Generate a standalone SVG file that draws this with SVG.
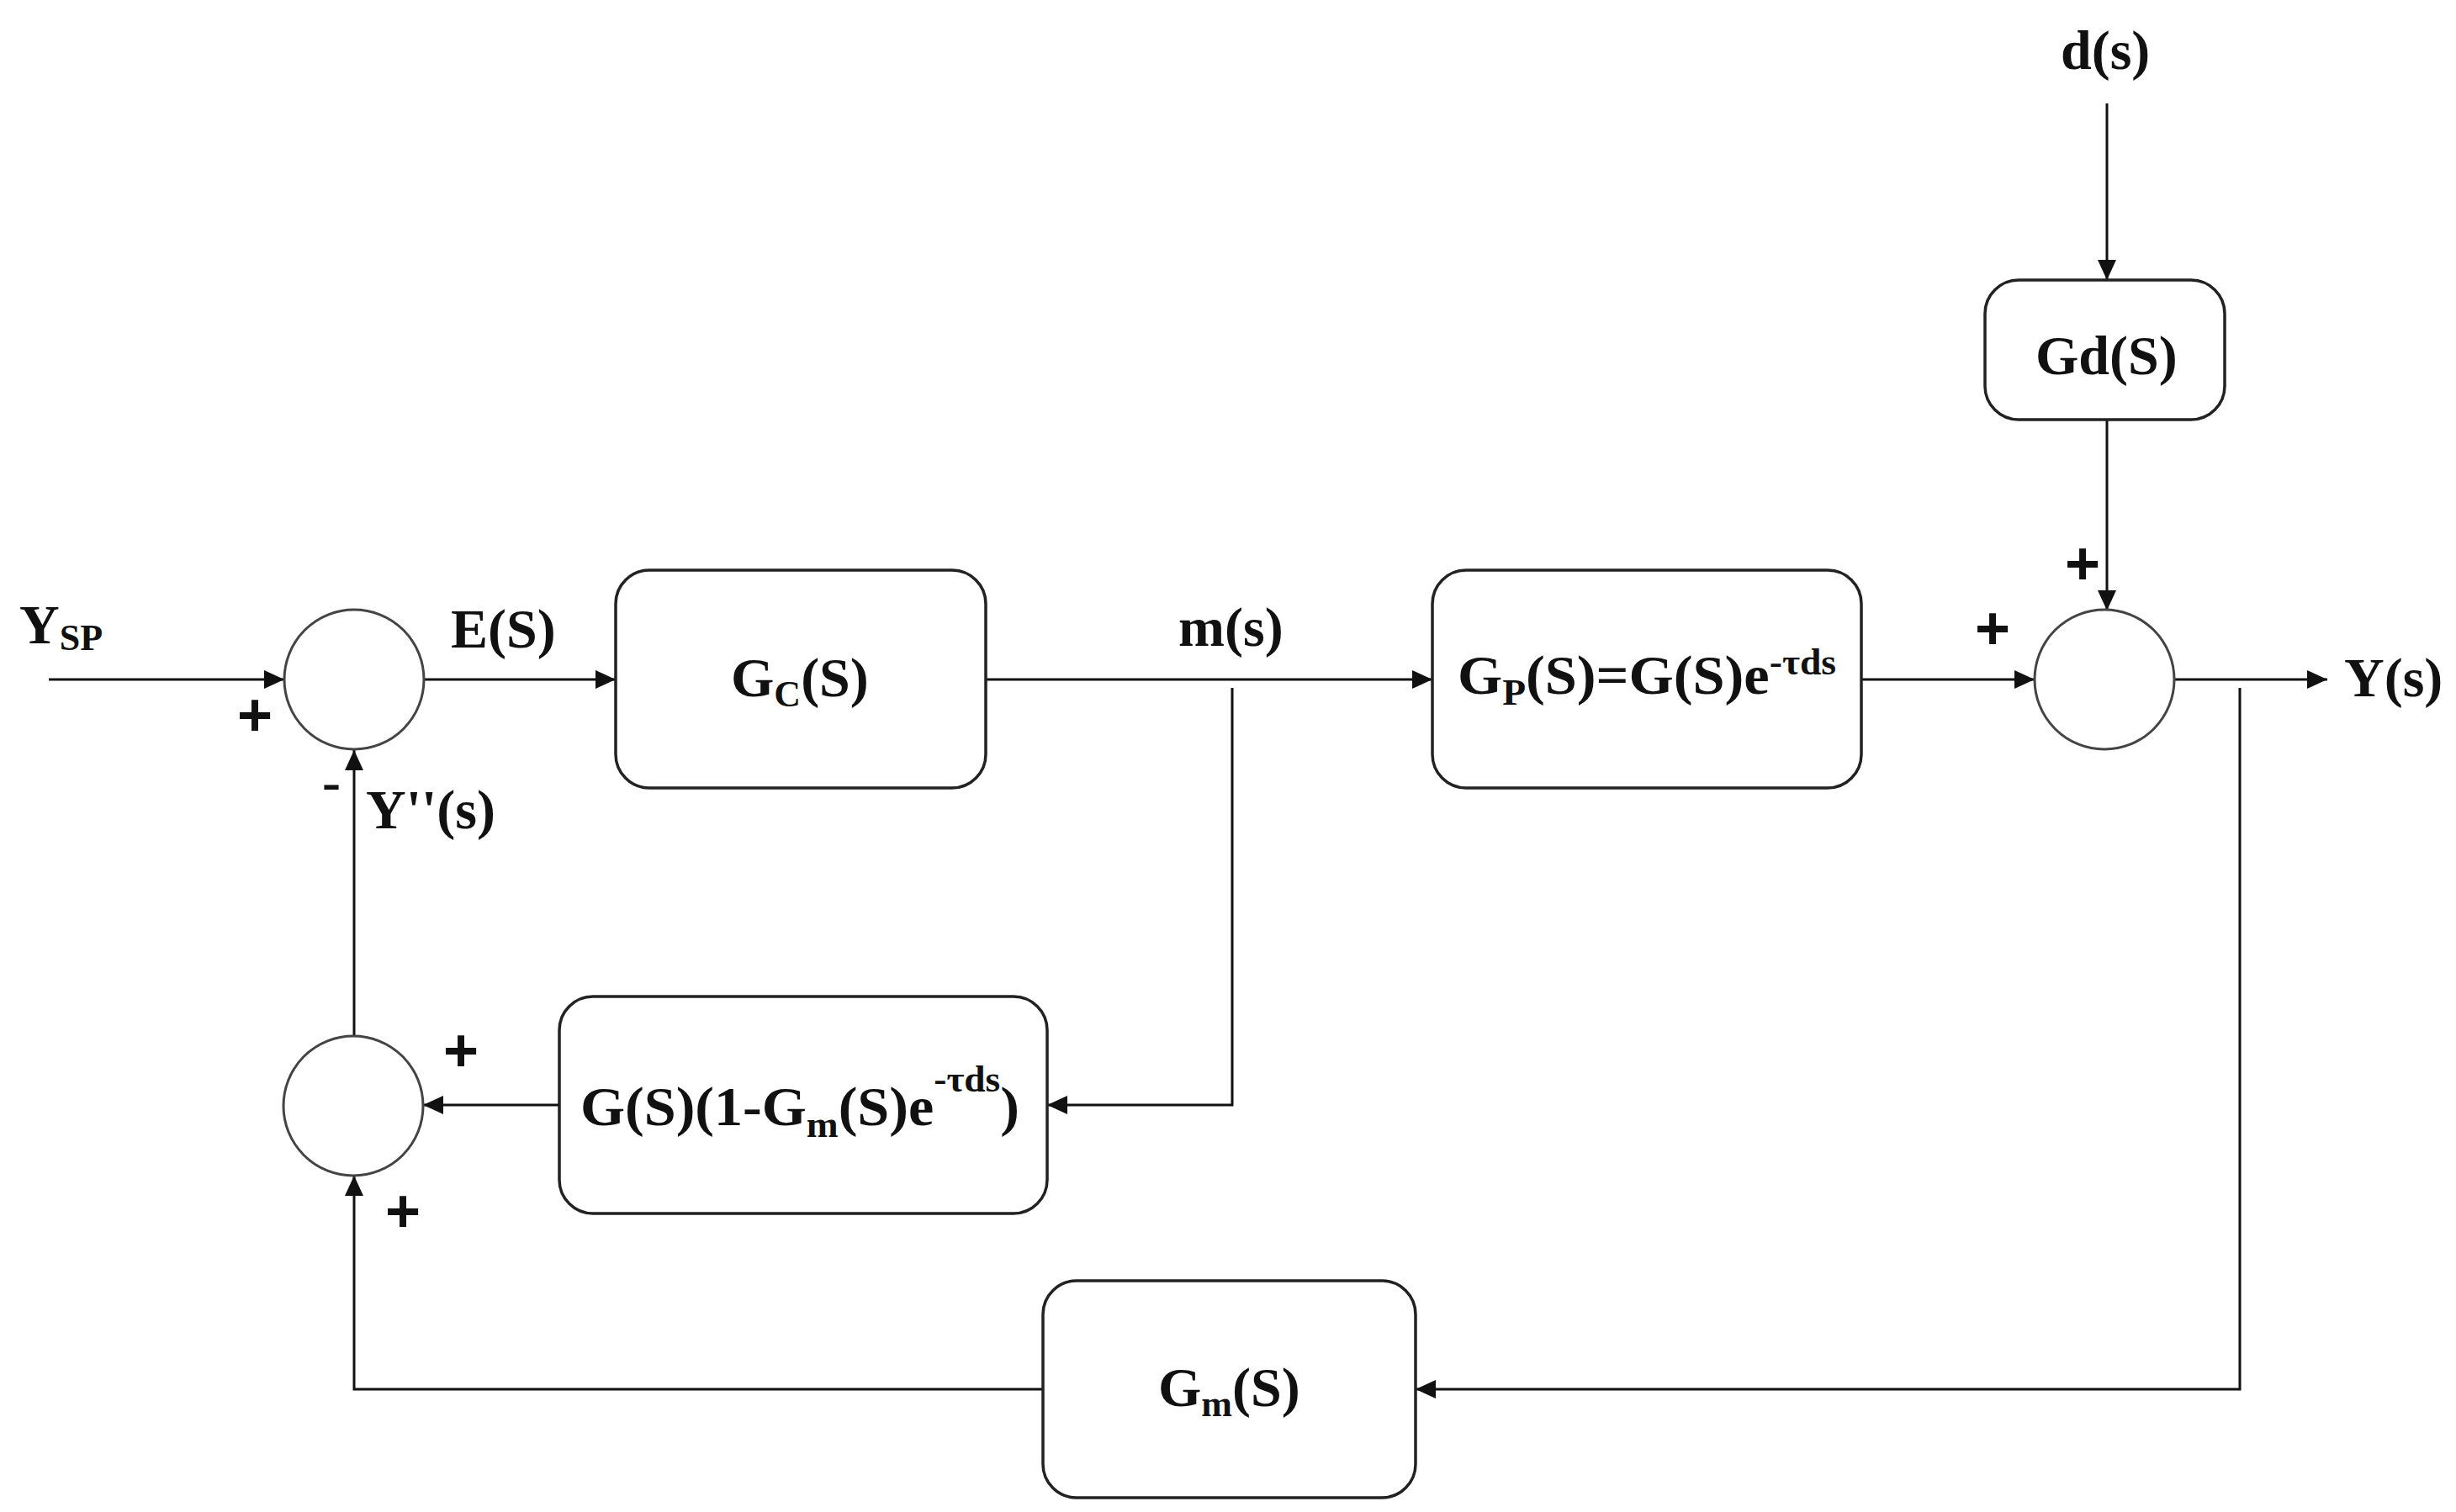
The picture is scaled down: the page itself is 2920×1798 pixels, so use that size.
<svg xmlns="http://www.w3.org/2000/svg" width="2920" height="1798" viewBox="0 0 2920 1798">
<defs>
<marker id="ah" markerUnits="userSpaceOnUse" markerWidth="24" markerHeight="22" refX="24" refY="11" orient="auto">
<path d="M0,0 L24,11 L0,22 z" fill="#111"/>
</marker>
<style>
.box{fill:#fff;stroke:#222;stroke-width:3.5}
.sum{fill:#fff;stroke:#444;stroke-width:3}
.ln{fill:none;stroke:#111;stroke-width:3;marker-end:url(#ah)}
.ln0{fill:none;stroke:#111;stroke-width:3}
.t{font-family:"Liberation Serif","Times New Roman",serif;font-weight:bold;font-size:66px;fill:#111}
.s{font-size:44px}
.sg{font-family:"Liberation Sans",Arial,sans-serif;font-weight:bold;font-size:72px;fill:#111;text-anchor:middle}
</style>
</defs>
<rect width="2920" height="1798" fill="#fff"/>

<g id="connectors">
<path class="ln" d="M58,808 H338"/>
<path class="ln" d="M504,808 H732"/>
<path class="ln" d="M1172,808 H1703"/>
<path class="ln" d="M1465,818 V1314 H1245"/>
<path class="ln" d="M2213,808 H2419"/>
<path class="ln" d="M2505,123 V333"/>
<path class="ln" d="M2505,499 V726"/>
<path class="ln" d="M2586,808 H2767"/>
<path class="ln" d="M2663,818 V1652 H1683"/>
<path class="ln" d="M1240,1652 H421 V1398"/>
<path class="ln" d="M665,1314 H503"/>
<path class="ln" d="M421,1232 V892"/>
</g>

<g id="sum1">
<circle class="sum" cx="421" cy="808" r="83"/>
</g>
<g id="sum2">
<circle class="sum" cx="2502" cy="808" r="83"/>
</g>
<g id="sum3">
<circle class="sum" cx="420" cy="1315" r="83"/>
</g>

<g id="gc">
<rect class="box" x="732" y="678" width="440" height="259" rx="40" ry="40"/>
<text class="t" x="869" y="828">G<tspan class="s" dy="12">C</tspan><tspan dy="-12">(S)</tspan></text>
</g>
<g id="gp">
<rect class="box" x="1703" y="678" width="510" height="259" rx="40" ry="40"/>
<text class="t" x="1733" y="825" textLength="450" lengthAdjust="spacingAndGlyphs">G<tspan class="s" dy="13">P</tspan><tspan dy="-13">(S)=G(S)e</tspan><tspan class="s" dy="-23">-τds</tspan></text>
</g>
<g id="gd">
<rect class="box" x="2360" y="333" width="285" height="166" rx="40" ry="40"/>
<text class="t" x="2420" y="445">Gd(S)</text>
</g>
<g id="gmodel">
<rect class="box" x="665" y="1185" width="580" height="258" rx="40" ry="40"/>
<text class="t" x="690" y="1338" textLength="522" lengthAdjust="spacingAndGlyphs">G(S)(1-G<tspan class="s" dy="14">m</tspan><tspan dy="-14">(S)e</tspan><tspan class="s" dy="-40">-τds</tspan><tspan dy="40">)</tspan></text>
</g>
<g id="gm">
<rect class="box" x="1240" y="1523" width="443" height="258" rx="40" ry="40"/>
<text class="t" x="1377" y="1672">G<tspan class="s" dy="12">m</tspan><tspan dy="-12">(S)</tspan></text>
</g>

<g id="labels">
<text class="t" x="23" y="765">Y<tspan class="s" dy="8">SP</tspan></text>
<text class="t" x="536" y="770">E(S)</text>
<text class="t" x="1401" y="768">m(s)</text>
<text class="t" x="2787" y="828">Y(s)</text>
<text class="t" x="2450" y="82">d(s)</text>
<text class="t" x="435" y="985">Y''(s)</text>
<text class="sg" x="303" y="875">+</text>
<text class="sg" x="2369" y="772">+</text>
<text class="sg" x="2476" y="695">+</text>
<text class="sg" x="548" y="1274">+</text>
<text class="sg" x="479" y="1465">+</text>
<text class="t" x="394" y="952" text-anchor="middle">-</text>
</g>
</svg>
